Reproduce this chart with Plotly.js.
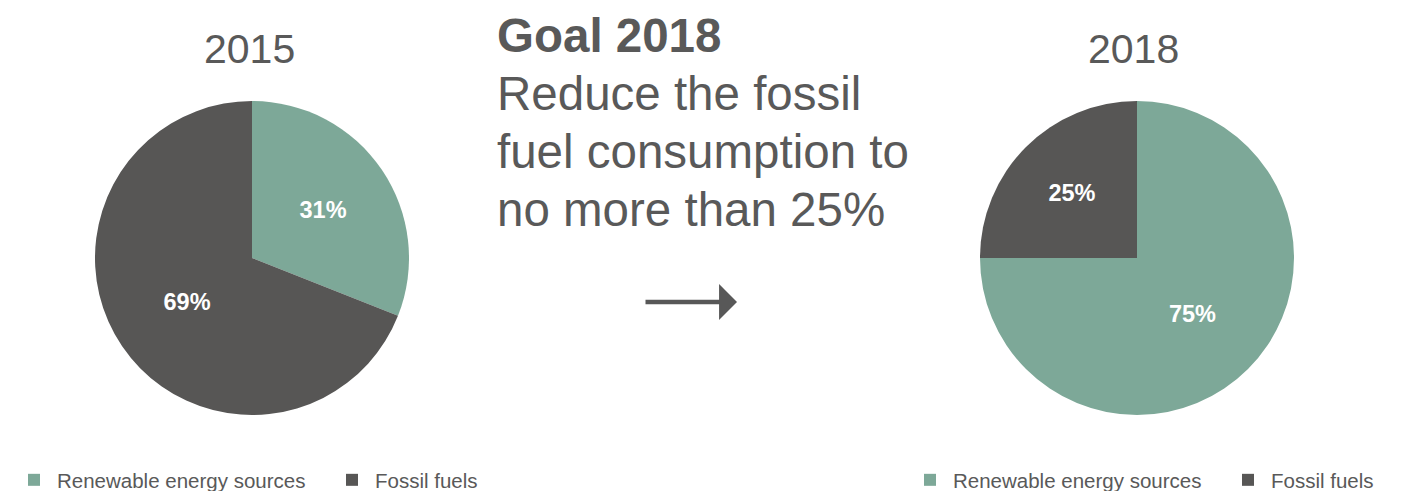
<!DOCTYPE html>
<html>
<head>
<meta charset="utf-8">
<script src="https://cdn.plot.ly/plotly-3.0.1.min.js"></script>
<style>html,body{margin:0;padding:0;background:#fff;}#chart{width:1412px;height:491px;}</style>
</head>
<body>
<div id="chart"></div>
<script>
const categories = ["Renewable energy sources", "Fossil fuels"];
const values2015 = [31, 69];
const values2018 = [75, 25];
const yearTitles = ["2015", "2018"];
const goalTitle = "Goal 2018";
const goalText = ["Reduce the fossil", "fuel consumption to", "no more than 25%"];

const colors = ["#7da898", "#575655"];
const textColor = "#595959";
const FONT = "Liberation Sans, Arial, sans-serif";
const W = 1412, H = 491;
const px = v => v / W;
const py = v => 1 - v / H;

function pie(values, cx, legendName, group) {
  const r = 157;
  return {
    type: "pie",
    labels: categories,
    values: values,
    sort: false,
    direction: "clockwise",
    rotation: 0,
    textinfo: "percent",
    textposition: "inside",
    insidetextorientation: "horizontal",
    insidetextfont: {family: FONT, size: 23.5, color: "#ffffff", weight: "bold"},
    marker: {colors: colors, line: {width: 0}},
    domain: {x: [px(cx - r), px(cx + r)], y: [py(258 + r), py(258 - r)]},
    legend: legendName,
    legendgroup: group,
    hoverinfo: "label+percent"
  };
}

const data = [pie(values2015, 252, "legend", "g2015"), pie(values2018, 1137, "legend2", "g2018")];

const legendBase = {
  orientation: "h",
  xanchor: "left",
  yanchor: "middle",
  y: py(480),
  font: {family: FONT, size: 20.5, color: textColor},
  itemwidth: 36,
  entrywidth: 267,
  bgcolor: "rgba(0,0,0,0)",
  traceorder: "normal"
};

const goalLines = [
  {text: "<b>" + goalTitle + "</b>", yc: 35},
  {text: goalText[0], yc: 93},
  {text: goalText[1], yc: 151},
  {text: goalText[2], yc: 209}
];

const annotations = [
  {text: yearTitles[0], x: px(249), y: py(49), xref: "paper", yref: "paper", xanchor: "center", yanchor: "middle", showarrow: false, font: {size: 41, color: textColor}},
  {text: yearTitles[1], x: px(1133), y: py(49), xref: "paper", yref: "paper", xanchor: "center", yanchor: "middle", showarrow: false, font: {size: 41, color: textColor}}
].concat(goalLines.map(l => ({
  text: l.text, x: px(495), y: py(l.yc), xref: "paper", yref: "paper", xanchor: "left", yanchor: "middle", align: "left", showarrow: false, font: {size: 47.5, color: textColor}
}))).concat([
  {text: "", x: px(737), y: py(302), ax: px(644), ay: py(302), xref: "paper", yref: "paper", axref: "paper", ayref: "paper", showarrow: true, arrowhead: 1, arrowsize: 1.33, arrowwidth: 4.5, arrowcolor: "#585858"}
]);

const layout = {
  width: W,
  height: H,
  margin: {l: 0, r: 0, t: 0, b: 0, autoexpand: false},
  paper_bgcolor: "#ffffff",
  font: {family: FONT, color: textColor},
  showlegend: true,
  legend: Object.assign({}, legendBase, {x: px(11)}),
  legend2: Object.assign({}, legendBase, {x: px(907)}),
  annotations: annotations
};

Plotly.newPlot("chart", data, layout, {displayModeBar: false, staticPlot: true});
</script>
</body>
</html>
